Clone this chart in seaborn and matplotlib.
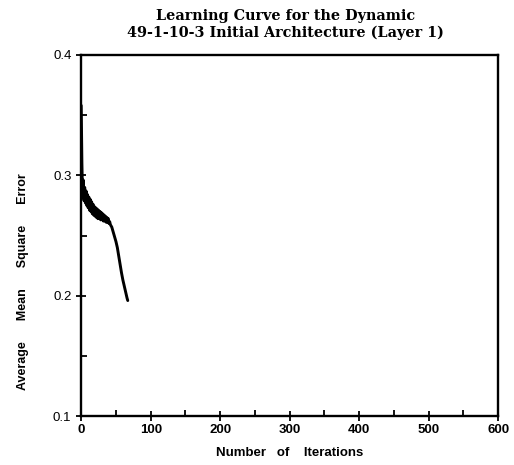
import matplotlib
matplotlib.use("Agg")
import matplotlib.pyplot as plt
import seaborn as sns
import pandas as pd
from matplotlib.ticker import MultipleLocator

iterations = [0, 1, 2, 3, 4, 5, 6, 7, 8, 9, 10, 11, 12, 13, 14, 15, 16, 17, 18, 19,
              20, 21, 22, 23, 24, 25, 26, 27, 28, 29, 30, 31, 32, 33, 34, 35, 36, 37,
              38, 39, 40, 41, 42, 43, 44, 46, 48, 50, 52, 54, 56, 58, 60, 62, 64, 66, 67]
mse = [0.358, 0.310, 0.282, 0.296, 0.279, 0.290, 0.277, 0.287, 0.275, 0.284, 0.273,
       0.282, 0.271, 0.280, 0.270, 0.278, 0.268, 0.276, 0.267, 0.274, 0.266, 0.273,
       0.265, 0.272, 0.264, 0.271, 0.264, 0.270, 0.263, 0.269, 0.263, 0.268, 0.262,
       0.267, 0.262, 0.266, 0.261, 0.265, 0.261, 0.264, 0.260, 0.2615, 0.259, 0.258,
       0.257, 0.253, 0.249, 0.245, 0.240, 0.233, 0.226, 0.219, 0.213, 0.208, 0.203,
       0.198, 0.196]

title_lines = ["Learning Curve for the Dynamic", "49-1-10-3 Initial Architecture (Layer 1)"]
xlabel = "Number   of    Iterations"
ylabel = "Average      Mean      Square      Error"

df = pd.DataFrame({"iter": iterations, "mse": mse})

sns.set_style("ticks")
plt.rcParams["font.family"] = ["Liberation Sans", "DejaVu Sans"]
plt.rcParams["text.color"] = "black"
plt.rcParams["axes.labelcolor"] = "black"
plt.rcParams["xtick.color"] = "black"
plt.rcParams["ytick.color"] = "black"

fig = plt.figure(figsize=(5.14, 4.65), dpi=100)
ax = fig.add_axes([0.158, 0.105, 0.811, 0.777])

sns.lineplot(data=df, x="iter", y="mse", ax=ax, color="black", linewidth=2.1,
             sort=False, estimator=None)

ax.set_xlim(0, 600)
ax.set_ylim(0.1, 0.4)
ax.xaxis.set_major_locator(MultipleLocator(100))
ax.xaxis.set_minor_locator(MultipleLocator(50))
ax.yaxis.set_major_locator(MultipleLocator(0.1))
ax.yaxis.set_minor_locator(MultipleLocator(0.05))
ax.tick_params(axis="both", which="major", direction="inout", length=7, width=1.3,
               labelsize=9.5, colors="black")
ax.tick_params(axis="both", which="minor", direction="in", length=4, width=1.3)
ax.tick_params(axis="x", which="major", pad=2)
ax.set_xticks([0, 100, 200, 300, 400, 500, 600])
ax.set_xticklabels(["0", "100", "200", "300", "400", "500", "600"], fontweight="bold")
ax.set_yticks([0.1, 0.2, 0.3, 0.4])
ax.set_yticklabels(["0.1", "0.2", "0.3", "0.4"])
for sp in ax.spines.values():
    sp.set_linewidth(1.7)
    sp.set_color("black")

ax.set_xlabel(xlabel, fontsize=9.5, fontweight="heavy", labelpad=8, color="black")
ax.set_ylabel(ylabel, fontsize=9, fontweight="heavy", color="black")
ax.yaxis.set_label_coords(-0.125, 0.372)

fig.text(0.556, 0.948, "\n".join(title_lines), ha="center", va="center",
         fontsize=10.4, fontweight="bold", family=["DejaVu Serif"],
         linespacing=1.2, color="black")

fig.savefig("out.png", dpi=100)
